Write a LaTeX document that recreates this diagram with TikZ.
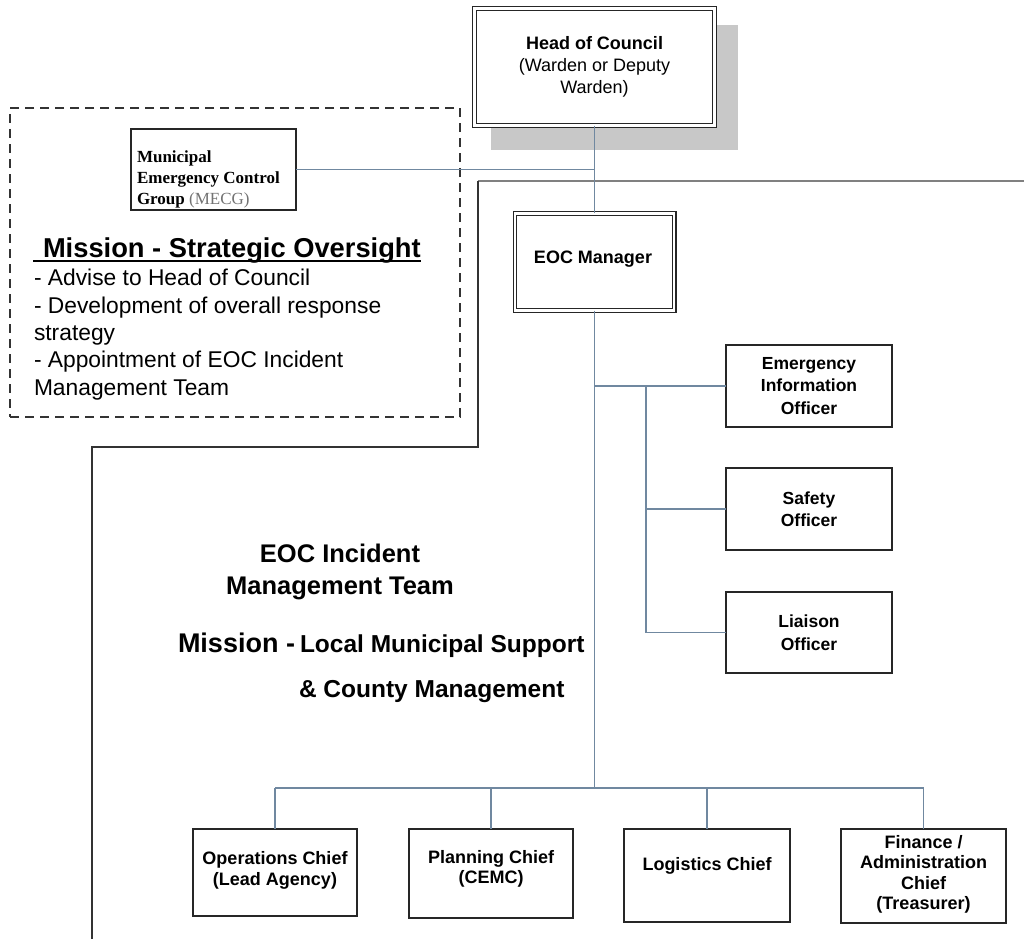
\documentclass[tikz,border=0pt]{standalone}
\usepackage{fontspec}
\setmainfont{Liberation Sans}
\newfontfamily\mecgfont{Liberation Serif}
\definecolor{connc}{RGB}{112,136,160}
\definecolor{shadowgray}{RGB}{200,200,200}
\newcommand{\fsz}[2]{\fontsize{#1}{#2}\selectfont}
\begin{document}
\begin{tikzpicture}[x=1pt,y=-1pt,
  box/.style={draw=black!85, line width=1.3pt, fill=white, inner sep=0pt, outer sep=0pt, align=center, font=\bfseries\fsz{18}{20.5}},
  dbox/.style={box, double=white, double distance=2.6pt, line width=1.1pt},
  offbox/.style={box, font=\bfseries\fsz{17.5}{22.5}},
  conn/.style={draw=connc, line width=1.3pt},
  txt/.style={inner sep=0pt, outer sep=0pt},
  bt/.style={txt, align=center, font=\bfseries\fsz{18}{20.5}},
]
\useasboundingbox (0,0) rectangle (1024,939);

% frame lines
\draw[line width=1.3pt, black!50] (1024,181) -- (478,181);
\draw[line width=1.3pt, black!80] (478,181) -- (478,447) -- (92,447) -- (92,939);

% dashed group frame
\node[draw=black!80, dash pattern=on 9pt off 6pt, line width=1.5pt, minimum width=450pt, minimum height=309pt, inner sep=0pt, outer sep=0pt] (frame) at (235,262.5) {};

% head of council
\fill[shadowgray] (491,25) rectangle (738,150);
\node[dbox, minimum width=240.2pt, minimum height=117.2pt, font=\fsz{18}{22}] (head) at (594.5,67) {\textbf{Head of Council}\\(Warden or Deputy\\Warden)};

% EOC manager
\node[dbox, minimum width=159.2pt, minimum height=97.2pt] (eoc) at (594.5,262) {};
\node[bt] (eoctxt) at (593,259.5) {EOC Manager};

% MECG
\node[draw=black!85, line width=1.3pt, fill=white, minimum width=165pt, minimum height=81pt, inner sep=0pt, outer sep=0pt] (mecg) at (213.5,169.5) {};
\node[txt, anchor=west, align=left, font=\mecgfont\bfseries\fsz{17}{21}] (mecgtxt) at (137,179) {Municipal\\Emergency Control\\Group {\mdseries\color{black!55}(MECG)}};

% strategic mission text
\node[txt, anchor=base west, font=\bfseries\fsz{27.3}{32}] (mission1) at (33,257) {\hspace{10pt}Mission - Strategic Oversight};
\draw[line width=1.6pt] ([yshift=-4pt]mission1.base west) -- ([yshift=-4pt]mission1.base east);
\node[txt, anchor=west, align=left, font=\fsz{22.8}{27.3}] (list) at (34,334.7) {- Advise to Head of Council\\- Development of overall response\\strategy\\- Appointment of EOC Incident\\Management Team};

% incident management team text
\node[txt, align=center, font=\bfseries\fsz{25.5}{32}] (imt) at (340,572.4) {EOC Incident\\Management Team};
\node[txt, anchor=base west, font=\bfseries\fsz{27}{32}] (mission2) at (178,652) {Mission -};
\node[txt, anchor=base west, font=\bfseries\fsz{24.5}{30}] (mission3) at (300,652) {Local Municipal Support};
\node[txt, anchor=base west, font=\bfseries\fsz{24.5}{30}] (mission4) at (299,697) {\& County Management};

% officers
\node[offbox, minimum width=166pt, minimum height=82pt] (eio) at (809,386) {Emergency\\Information\\Officer};
\node[offbox, minimum width=166pt, minimum height=82pt] (safety) at (809,509) {Safety\\Officer};
\node[offbox, minimum width=166pt, minimum height=81pt] (liaison) at (809,632.5) {Liaison\\Officer};

% section chiefs
\node[box, minimum width=164pt, minimum height=87pt] (ops) at (275,872.5) {};
\node[bt] (opstxt) at (275,870.6) {Operations Chief\\(Lead Agency)};
\node[box, minimum width=164pt, minimum height=89pt] (plan) at (491,873.5) {};
\node[bt] (plantxt) at (491,868.6) {Planning Chief\\(CEMC)};
\node[box, minimum width=166pt, minimum height=93pt] (log) at (707,875.5) {};
\node[bt] (logtxt) at (707,865.4) {Logistics Chief};
\node[box, minimum width=165pt, minimum height=94pt] (fin) at (923.5,876) {};
\node[bt] (fintxt) at (923.5,874.1) {Finance /\\Administration\\Chief\\(Treasurer)};

% connectors
\coordinate (split) at (646,0);
\coordinate (bus) at (594.5,788);
\draw[conn] (head.south) -- (eoc.north);
\draw[conn] (mecg.east) -- (mecg.east -| head.south);
\draw[conn] (eoc.south) -- (bus);
\draw[conn] (eio.west -| eoc.south) -- (eio.west);
\draw[conn] (eio.west -| split) -- (liaison.west -| split);
\draw[conn] (safety.west -| split) -- (safety.west);
\draw[conn] (liaison.west -| split) -- (liaison.west);
\draw[conn] (ops.north |- bus) -- (fin.north |- bus);
\draw[conn] (ops.north |- bus) -- (ops.north);
\draw[conn] (plan.north |- bus) -- (plan.north);
\draw[conn] (log.north |- bus) -- (log.north);
\draw[conn] (fin.north |- bus) -- (fin.north);
\end{tikzpicture}
\end{document}
